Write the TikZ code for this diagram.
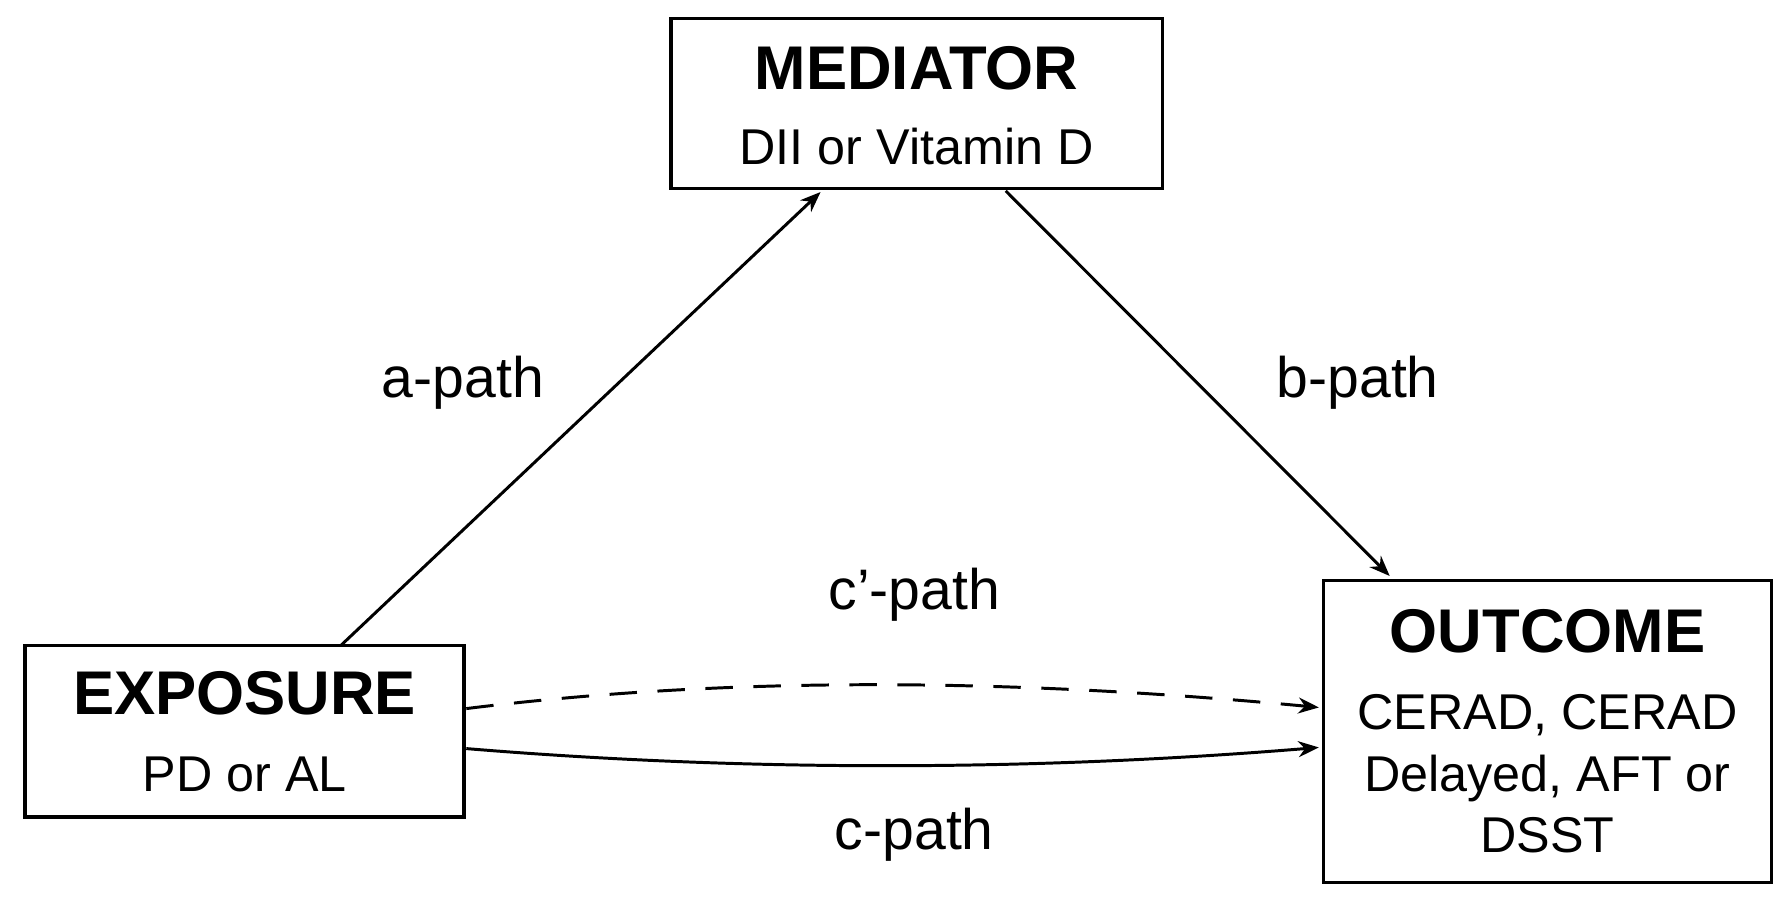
\documentclass[tikz,border=0pt]{standalone}
\usepackage{fontspec}
\setmainfont{Liberation Sans}
\usetikzlibrary{arrows.meta}
\begin{document}
\begin{tikzpicture}[x=0.5pt,y=-0.5pt,
  box/.style={draw,line width=1.5pt,inner sep=0pt},
  ttl/.style={font=\fontsize{27}{30}\selectfont\bfseries},
  txt/.style={font=\fontsize{22}{27}\selectfont,align=center},
  lbl/.style={font=\fontsize{25}{30}\selectfont},
  arr/.style={line width=1.3pt,-{Stealth[length=9pt,width=7pt]}}]
\useasboundingbox (0,0) rectangle (1568,794);
\node[box,minimum width=215pt,minimum height=74.5pt] (med) at (802,90.5) {};
\node[ttl] (medt) at (802,60) {MEDIATOR};
\node[txt] (meds) at (802,128) {DII or Vitamin D};
\node[box,minimum width=192pt,minimum height=75pt] (exp) at (214,640) {};
\node[ttl] (expt) at (214,607) {EXPOSURE};
\node[txt] (exps) at (214,678) {PD or AL};
\node[box,minimum width=196pt,minimum height=132pt] (out) at (1354,640) {};
\node[ttl] (outt) at (1354,552) {OUTCOME};
\node[txt] (outs) at (1354,677) {CERAD, CERAD\\Delayed, AFT or\\DSST};
\coordinate (a0) at (298,565);
\coordinate (a1) at (718,168);
\coordinate (b0) at (880,167);
\coordinate (b1) at (1216,504);
\draw[arr] (a0) -- (a1);
\draw[arr] (b0) -- (b1);
\coordinate (d0) at (408,620);
\coordinate (d1) at (1154,619);
\coordinate (s0) at (408,655);
\coordinate (s1) at (1154,654);
\draw[arr,dash pattern=on 12pt off 9pt] (d0) .. controls (650,590) and (900,595) .. (d1);
\draw[arr] (s0) .. controls (650,675) and (900,675) .. (s1);
\node[lbl] (la) at (405,335) {a-path};
\node[lbl] (lb) at (1188,335) {b-path};
\node[lbl] (lc1) at (800,520) {c’-path};
\node[lbl] (lc) at (800,730) {c-path};
\end{tikzpicture}
\end{document}
